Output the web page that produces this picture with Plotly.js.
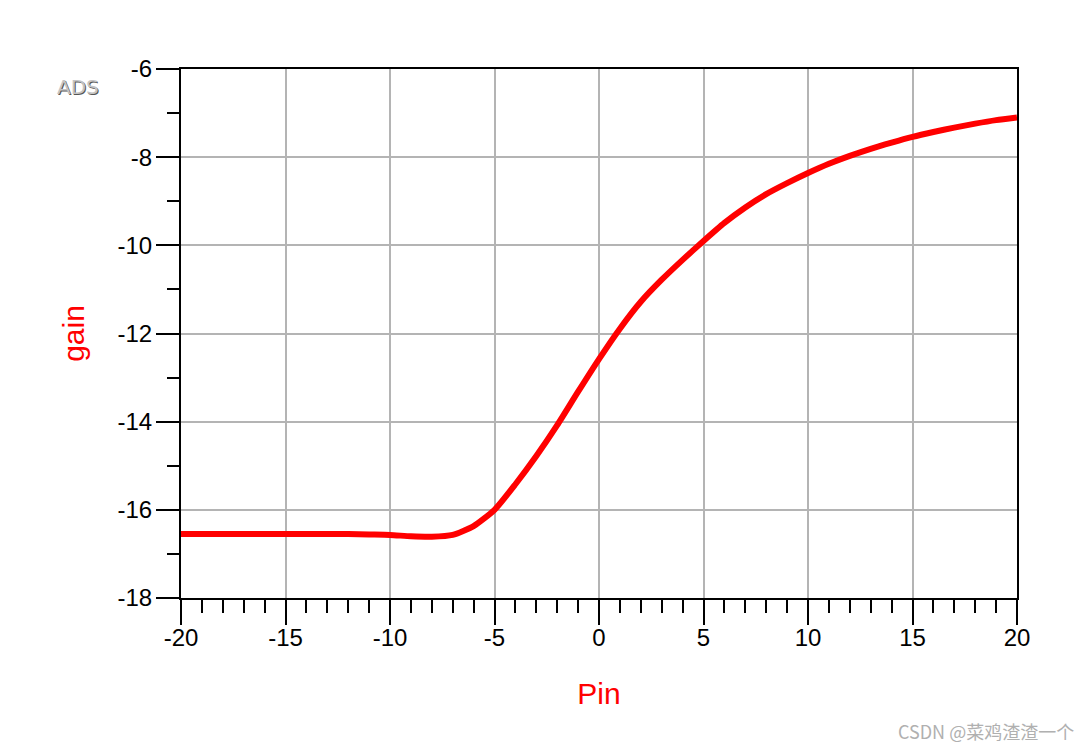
<!DOCTYPE html>
<html>
<head>
<meta charset="utf-8">
<script src="https://cdn.plot.ly/plotly-3.0.1.min.js"></script>
<style>html,body{margin:0;padding:0;background:#fff;}#chart{width:1088px;height:748px;}</style>
</head>
<body>
<div id="chart"></div>
<script>
const pin = [-20,-19,-18,-17,-16,-15,-14,-13,-12,-11,-10,-9,-8,-7,-6,-5,-4,-3,-2,-1,0,1,2,3,4,5,6,7,8,9,10,11,12,13,14,15,16,17,18,19,20];
const gain = [-16.55,-16.55,-16.55,-16.55,-16.55,-16.55,-16.55,-16.55,-16.55,-16.56,-16.57,-16.60,-16.61,-16.57,-16.37,-16.00,-15.42,-14.78,-14.08,-13.32,-12.58,-11.89,-11.28,-10.78,-10.33,-9.90,-9.49,-9.14,-8.84,-8.59,-8.36,-8.15,-7.97,-7.81,-7.67,-7.54,-7.43,-7.33,-7.24,-7.16,-7.10];
const xTickVals = [-20,-15,-10,-5,0,5,10,15,20];
const xTickText = ["-20","-15","-10","-5","0","5","10","15","20"];
const yTickVals = [-18,-16,-14,-12,-10,-8,-6];
const yTickText = ["-18","-16","-14","-12","-10","-8","-6"];

const FONT = '"Liberation Sans", Arial, sans-serif';

const trace = {
  x: pin, y: gain, type: 'scatter', mode: 'lines',
  line: {color: '#ff0000', width: 6, shape: 'spline', smoothing: 0.6, simplify: false},
  hoverinfo: 'skip'
};

const layout = {
  width: 1088, height: 748,
  margin: {l: 181, r: 71, t: 69, b: 150},
  paper_bgcolor: '#ffffff', plot_bgcolor: '#ffffff',
  showlegend: false,
  font: {family: FONT, color: '#000'},
  xaxis: {
    range: [-20, 20], tickmode: 'array', tickvals: xTickVals, ticktext: xTickText,
    ticks: 'outside', ticklen: 25, tickwidth: 2, tickcolor: '#000', ticklabelstandoff: -8,
    showline: true, linecolor: '#000', linewidth: 2, mirror: true,
    showgrid: true, gridcolor: '#b4b4b4', gridwidth: 2, zeroline: false,
    tickfont: {size: 24, family: FONT, color: '#000'},
    minor: {tickmode: 'linear', tick0: 0, dtick: 1, ticks: 'outside', ticklen: 13, tickwidth: 2, tickcolor: '#000', showgrid: false},
    title: {text: 'Pin', font: {size: 30, color: '#ff0000', family: FONT}, standoff: 33},
    automargin: true, fixedrange: true
  },
  yaxis: {
    range: [-18, -6], tickmode: 'array', tickvals: yTickVals, ticktext: yTickText,
    ticks: 'outside', ticklen: 23, tickwidth: 2, tickcolor: '#000', ticklabelstandoff: -1,
    showline: true, linecolor: '#000', linewidth: 2, mirror: true,
    showgrid: true, gridcolor: '#b4b4b4', gridwidth: 2, zeroline: false,
    tickfont: {size: 24, family: FONT, color: '#000'},
    minor: {tickmode: 'linear', tick0: 0, dtick: 1, ticks: 'outside', ticklen: 12, tickwidth: 2, tickcolor: '#000', showgrid: false},
    title: {text: 'gain', font: {size: 30, color: '#ff0000', family: FONT}, standoff: 24},
    automargin: true, fixedrange: true
  },
  annotations: [
    {xref: 'paper', yref: 'paper', x: -0.151, y: 0.966, xanchor: 'left', yanchor: 'middle', showarrow: false,
     text: 'ADS', font: {size: 20, family: '"DejaVu Sans", sans-serif', color: '#555'}, xshift: 1, yshift: -1},
    {xref: 'paper', yref: 'paper', x: -0.151, y: 0.966, xanchor: 'left', yanchor: 'middle', showarrow: false,
     text: 'ADS', font: {size: 20, family: '"DejaVu Sans", sans-serif', color: '#c4c4c4'}},
    {xref: 'paper', yref: 'paper', x: 1.07, y: -0.252, xanchor: 'right', yanchor: 'middle', showarrow: false,
     text: 'CSDN @菜鸡渣渣一个', font: {size: 18, family: '"Noto Sans CJK SC", "Noto Sans", sans-serif', color: '#b0b0b0'}}
  ]
};

Plotly.newPlot('chart', [trace], layout, {displayModeBar: false, staticPlot: true});
</script>
</body>
</html>
